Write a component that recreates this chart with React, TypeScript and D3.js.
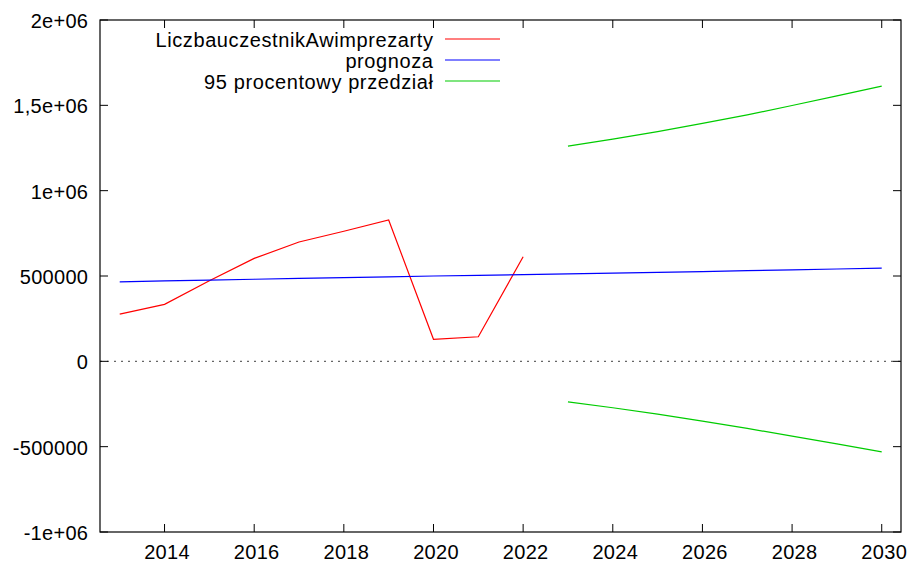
import React from "react";
import * as d3 from "d3";

const years = [2013, 2014, 2015, 2016, 2017, 2018, 2019, 2020, 2021, 2022];
const actual = [277000, 334000, 472000, 603000, 699000, 762000, 828000, 129000, 144000, 613000];

const forecastYears = [2013, 2014, 2015, 2016, 2017, 2018, 2019, 2020, 2021, 2022, 2023, 2024, 2025, 2026, 2027, 2028, 2029, 2030];
const forecast = [466000, 471000, 476000, 481000, 486000, 491000, 495000, 500000, 504000, 508000, 512000, 517000, 521000, 526000, 531000, 536000, 541000, 546000];

const ciYears = [2023, 2024, 2025, 2026, 2027, 2028, 2029, 2030];
const ciUpper = [1261000, 1302000, 1346000, 1394000, 1444000, 1499000, 1555000, 1613000];
const ciLower = [-238000, -272000, -309000, -350000, -393000, -438000, -484000, -531000];

const xTicks = [2014, 2016, 2018, 2020, 2022, 2024, 2026, 2028, 2030];
const yTicks = [-1000000, -500000, 0, 500000, 1000000, 1500000, 2000000];
const yTickLabels = ["-1e+06", "-500000", "0", "500000", "1e+06", "1,5e+06", "2e+06"];

const legendLabels = ["LiczbauczestnikAwimprezarty", "prognoza", "95 procentowy przedział"];
const colors = ["#ff0000", "#0000ff", "#00cc00"];

export default function App() {
  const W = 909, H = 564;
  const left = 100, right = 901, top = 20, bottom = 532;
  const x = d3.scaleLinear().domain([2012.56, 2030.43]).range([left, right]);
  const y = d3.scaleLinear().domain([-1000000, 2000000]).range([bottom, top]);
  const line = d3.line<[number, number]>().x(d => x(d[0])).y(d => y(d[1]));
  const font = "'Liberation Sans', Arial, Helvetica, sans-serif";
  const fs = 20;
  const ls = 0.3;
  const lls = 0.6;
  const tick = 8;

  const pts = (xs: number[], vs: number[]) => xs.map((v, i) => [v, vs[i]] as [number, number]);

  return (
    <svg width={W} height={H} style={{ position: "absolute", left: 0, top: 0, background: "#fff" }}
      fontFamily={font} fontSize={fs}>
      <rect x={0} y={0} width={W} height={H} fill="#fff" />
      {/* zero line */}
      <line x1={left} x2={right} y1={y(0)} y2={y(0)} stroke="#666" strokeWidth={1.2} strokeDasharray="2,5" />
      {/* ticks */}
      {xTicks.map(t => (
        <g key={"xt" + t}>
          <line x1={x(t)} x2={x(t)} y1={bottom} y2={bottom - tick} stroke="#000" />
          <line x1={x(t)} x2={x(t)} y1={top} y2={top + tick} stroke="#000" />
          <text x={x(t) + 2.5} y={559} textAnchor="middle" letterSpacing={ls}>{t}</text>
        </g>
      ))}
      {yTicks.map((t, i) => (
        <g key={"yt" + t}>
          <line x1={left} x2={left + tick} y1={y(t)} y2={y(t)} stroke="#000" />
          <line x1={right} x2={right - tick} y1={y(t)} y2={y(t)} stroke="#000" />
          <text x={88 + ls} y={y(t) + 8} textAnchor="end" letterSpacing={ls}>{yTickLabels[i]}</text>
        </g>
      ))}
      {/* series */}
      <path d={line(pts(years, actual)) || ""} fill="none" stroke={colors[0]} strokeWidth={1.2} />
      <path d={line(pts(forecastYears, forecast)) || ""} fill="none" stroke={colors[1]} strokeWidth={1.2} />
      <path d={line(pts(ciYears, ciUpper)) || ""} fill="none" stroke={colors[2]} strokeWidth={1.2} />
      <path d={line(pts(ciYears, ciLower)) || ""} fill="none" stroke={colors[2]} strokeWidth={1.2} />
      {/* legend */}
      {legendLabels.map((lab, i) => {
        const ly = 39 + i * 21;
        return (
          <g key={lab}>
            <text x={433 + lls} y={ly + 8} textAnchor="end" letterSpacing={lls}>{lab}</text>
            <line x1={445} x2={500} y1={ly} y2={ly} stroke={colors[i]} strokeWidth={1.2} />
          </g>
        );
      })}
      {/* border */}
      <rect x={left} y={top} width={right - left} height={bottom - top} fill="none" stroke="#000" strokeWidth={1.2} />
    </svg>
  );
}
